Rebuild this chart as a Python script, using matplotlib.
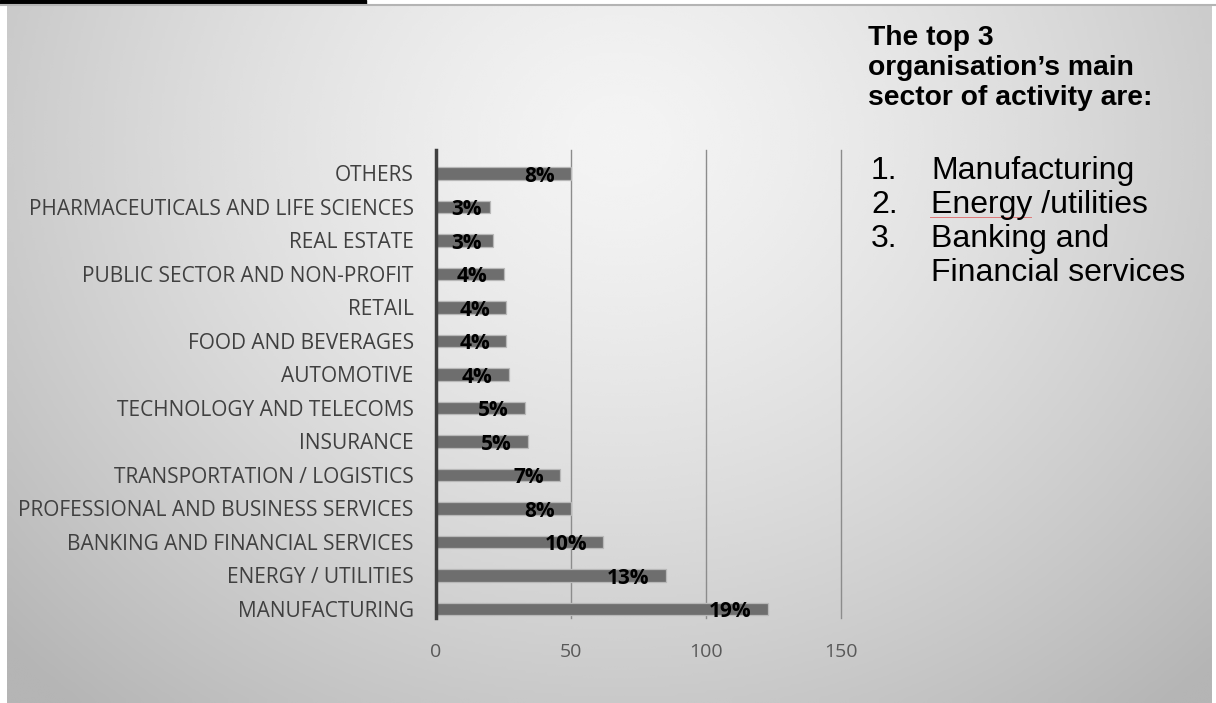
import numpy as np
import matplotlib.pyplot as plt
from matplotlib.lines import Line2D
from matplotlib.patches import Rectangle

W, H = 1216, 703

# sector counts, bottom to top
sectors = ['MANUFACTURING', 'ENERGY / UTILITIES', 'BANKING AND FINANCIAL SERVICES',
           'PROFESSIONAL AND BUSINESS SERVICES', 'TRANSPORTATION / LOGISTICS',
           'INSURANCE', 'TECHNOLOGY AND TELECOMS', 'AUTOMOTIVE', 'FOOD AND BEVERAGES',
           'RETAIL', 'PUBLIC SECTOR AND NON-PROFIT', 'REAL ESTATE',
           'PHARMACEUTICALS AND LIFE SCIENCES', 'OTHERS']
counts = [123, 85, 62, 50, 46, 34, 33, 27, 26, 26, 25, 21, 20, 50]
shares = ['19%', '13%', '10%', '8%', '7%', '5%', '5%', '4%', '4%', '4%', '4%', '3%', '3%', '8%']
x_ticks = [0, 50, 100, 150]

title_lines = ['The top 3', 'organisation\u2019s main', 'sector of activity are:']
top_items = ['Manufacturing', 'Energy /utilities', 'Banking and\nFinancial services']


def fx(px):
    return px / W


def fy(py):
    return 1 - py / H


fig = plt.figure(figsize=(W / 100, H / 100), dpi=100)
fig.patch.set_facecolor('white')

# slide background with a soft radial shading
bg = fig.add_axes([fx(7), 0, fx(1212) - fx(7), fy(5)])
gx, gy = np.meshgrid(np.linspace(7, 1212, 400), np.linspace(5, 703, 240))
r = np.sqrt(((gx - 620) / 700) ** 2 + ((gy - 140) / 620) ** 2)
shade = 0.955 - 0.19 * np.clip(r, 0, 1.2) ** 1.4
bg.imshow(shade, cmap='gray', vmin=0, vmax=1, aspect='auto', interpolation='bicubic')
bg.axis('off')

# black strip and grey rule along the top
fig.add_artist(Rectangle((0, fy(3.5)), fx(366), 3.5 / H, color='black', transform=fig.transFigure))
fig.add_artist(Line2D([0, 1], [fy(4.5), fy(4.5)], color='#b4b4b4', lw=1.5, transform=fig.transFigure))

ax = fig.add_axes([fx(436), fy(618), fx(841) - fx(436), fy(150) - fy(618)])
ax.patch.set_alpha(0)
y = np.arange(len(sectors))
ax.barh(y, counts, height=0.38, color='#6e6e6e', edgecolor='#b8b8b8', linewidth=0.9, zorder=3)

for yi, v, s in zip(y, counts, shares):
    ax.text(max(v - 6, 17), yi - 0.09, s, ha='right', va='center', fontsize=15,
            fontweight='bold', family='Open Sans', color='black', zorder=4)

ax.set_xlim(0, 150)
ax.set_ylim(-0.27, 13.7)
ax.set_xticks(x_ticks)
ax.set_yticks(y)
ax.set_yticklabels(sectors)
ax.grid(axis='x', color='#8c8c8c', lw=1.0, zorder=1)
for gl in ax.get_xgridlines():
    gl.set_clip_on(False)
ax.tick_params(length=0)
ax.tick_params(axis='y', pad=16, labelsize=15, labelcolor='#404040')
ax.tick_params(axis='x', pad=18, labelsize=14, labelcolor='#595959')
for lab in ax.get_xticklabels() + ax.get_yticklabels():
    lab.set_family('Open Sans')
for side in ['top', 'right', 'bottom']:
    ax.spines[side].set_visible(False)
ax.spines['left'].set_color('#404040')
ax.spines['left'].set_linewidth(2.5)
ax.spines['left'].set_zorder(5)

# side notes
for i, line in enumerate(title_lines):
    fig.text(fx(868), fy(45 + 30 * i), line, fontsize=20.3, fontweight='bold',
             family='Liberation Sans', va='baseline', ha='left')

item_base = [179, 213, 247]
for i, item in enumerate(top_items):
    fig.text(fx(871), fy(item_base[i]), f'{i + 1}.', fontsize=23,
             family='Liberation Sans', va='baseline', ha='left')
    fig.text(fx(931), fy(item_base[i]), item.split('\n')[0], fontsize=23,
             family='Liberation Sans', va='baseline', ha='left')
    if '\n' in item:
        fig.text(fx(931), fy(item_base[i] + 34), item.split('\n')[1], fontsize=23,
                 family='Liberation Sans', va='baseline', ha='left')

# spell-check squiggle under "Energy"
fig.add_artist(Line2D([fx(930), fx(1031)], [fy(217), fy(217)], color='#e07878', lw=0.7,
                      transform=fig.transFigure))

fig.savefig('out.png', dpi=100)
